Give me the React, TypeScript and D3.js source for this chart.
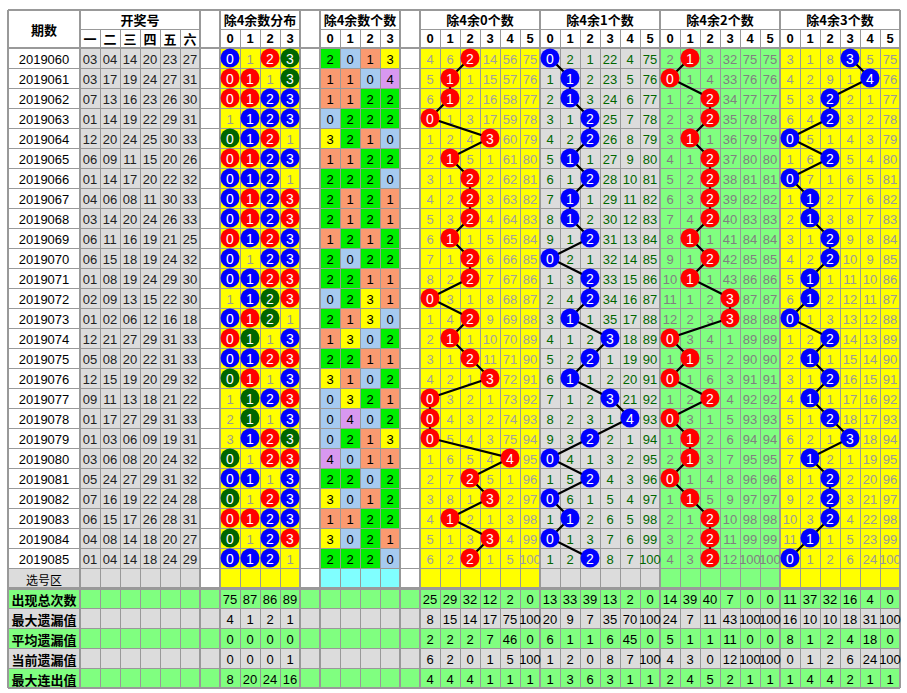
import React from 'react';
import * as d3 from 'd3';

const ISSUES = ['2019060','2019061','2019062','2019063','2019064','2019065','2019066','2019067','2019068','2019069','2019070','2019071','2019072','2019073','2019074','2019075','2019076','2019077','2019078','2019079','2019080','2019081','2019082','2019083','2019084','2019085'];
const DRAWS = [
  [3,4,14,20,23,27],[3,17,19,24,27,31],[7,13,16,23,26,30],[1,14,19,22,29,31],[12,20,24,25,30,33],
  [6,9,11,15,20,26],[1,14,17,20,22,32],[4,6,8,11,30,33],[3,14,20,24,26,33],[6,11,16,19,21,25],
  [6,15,18,19,24,32],[1,8,19,24,29,30],[2,9,13,15,22,30],[1,2,6,12,16,18],[12,21,27,29,31,33],
  [5,8,20,22,31,33],[12,15,19,20,29,32],[9,11,13,18,21,22],[1,17,27,29,31,33],[1,3,6,9,19,31],
  [3,6,8,20,24,32],[5,24,27,29,31,32],[7,16,19,22,24,28],[6,15,17,26,28,31],[4,8,14,18,20,27],
  [1,4,14,18,24,29]
];
// first-row omission values (0 = hit)
const INIT_DIST = [0,1,0,0];
const INIT_R0 = [4,6,0,14,56,75];
const INIT_R1 = [0,2,1,22,4,75];
const INIT_R2 = [2,0,3,32,75,75];
const INIT_R3 = [3,1,8,0,5,75];

const HEAD_NUM = ['一','二','三','四','五','六'];
const STAT_LABELS = ['出现总次数','最大遗漏值','平均遗漏值','当前遗漏值','最大连出值'];
const STAT_DIST = [[75,87,86,89],[4,1,2,1],[0,0,0,0],[0,0,0,1],[8,20,24,16]];
const STAT_R0 = [[25,29,32,12,2,0],[8,15,14,17,75,100],[2,2,2,7,46,0],[6,2,0,1,5,100],[4,4,4,1,1,1]];
const STAT_R1 = [[13,33,39,13,2,0],[20,9,7,35,70,100],[6,1,1,6,45,0],[1,2,0,8,7,100],[1,3,6,3,1,1]];
const STAT_R2 = [[14,39,40,7,0,0],[24,7,11,43,100,100],[5,1,1,11,0,0],[4,3,0,12,100,100],[2,4,5,2,1,1]];
const STAT_R3 = [[11,37,32,16,4,0],[16,10,10,18,31,100],[8,1,2,4,18,0],[0,1,2,6,24,100],[1,4,4,2,1,1]];

const W = 907, H = 693;
const LEFT = 8, TOP = 10, MID = 29;
const col = d3.scaleLinear().domain([0, 1]).range([80, 100]);
const row = d3.scaleLinear().domain([0, 1]).range([48, 68]);
const CW = 20, RH = 20;

const YEL = '#ffff00', GRY = '#dcdcdc', GRN = '#80ff80';
const COUNT_BG: Record<number, string> = { 0: '#a6caf0', 1: '#fa9a70', 2: '#00ee00', 3: '#ffff00', 4: '#d898f0' };
const NUMF = '"Liberation Sans", Arial, sans-serif';
const CJK = '"Noto Sans CJK SC", sans-serif';

const counts = DRAWS.map(d => [0, 1, 2, 3].map(r => d.filter(n => n % 4 === r).length));

function omissions(init: number[], hit: (i: number, c: number) => boolean) {
  const out: number[][] = [];
  counts.forEach((_, i) => {
    out.push(init.map((v, c) => (i === 0 ? v : hit(i, c) ? 0 : out[i - 1][c] + 1)));
  });
  return out;
}
const distOm = omissions(INIT_DIST, (i, c) => counts[i][c] > 0);
const SECTIONS = [
  { title: '除4余0个数', start: 17, init: INIT_R0, bg: YEL, tc: '#a0a0a0', ball: '#ff0000', stats: STAT_R0 },
  { title: '除4余1个数', start: 23, init: INIT_R1, bg: GRY, tc: '#006600', ball: '#0000ff', stats: STAT_R1 },
  { title: '除4余2个数', start: 29, init: INIT_R2, bg: GRN, tc: '#808080', ball: '#ff0000', stats: STAT_R2 },
  { title: '除4余3个数', start: 35, init: INIT_R3, bg: YEL, tc: '#999999', ball: '#0000ff', stats: STAT_R3 },
].map((s, k) => ({ ...s, om: omissions(s.init, (i, c) => counts[i][k] === c) }));

const NROWS = ISSUES.length;

function Ball({ cx, cy, fill, label }: { cx: number; cy: number; fill: string; label: string | number }) {
  return (
    <g>
      <circle cx={cx} cy={cy} r={9.5} fill={fill} />
      <text x={cx} y={cy + 1} textAnchor="middle" dominantBaseline="central" fill="#fff" fontSize={14} fontFamily={NUMF}>{label}</text>
    </g>
  );
}

export default function App() {
  const rects: { x: number; y: number; w: number; h: number; fill: string }[] = [];
  const texts: { x: number; y: number; t: string | number; fill: string; size: number; bold?: boolean; font?: string }[] = [];
  const balls: { cx: number; cy: number; fill: string; label: number }[] = [];
  const cell = (c: number, r: number, fill: string) => rects.push({ x: col(c), y: row(r), w: CW, h: RH, fill });
  const ctext = (c: number, r: number, t: string | number, fill: string, size = 13, bold = false) =>
    texts.push({ x: col(c) + CW / 2, y: row(r) + RH / 2 + 1, t, fill, size, bold });

  // header
  rects.push({ x: LEFT, y: TOP, w: 900 - LEFT, h: 48 - TOP, fill: '#fff' });

  // data rows
  for (let i = 0; i < NROWS; i++) {
    rects.push({ x: LEFT, y: row(i), w: 80 - LEFT, h: RH, fill: '#fff' });
    texts.push({ x: 44, y: row(i) + RH / 2 + 1, t: ISSUES[i], fill: '#000', size: 13 });
    DRAWS[i].forEach((n, c) => { cell(c, i, GRY); ctext(c, i, String(n).padStart(2, '0'), '#222'); });
    [6, 11, 16].forEach(c => cell(c, i, '#fff'));
    for (let r = 0; r < 4; r++) {
      cell(7 + r, i, YEL);
      const k = counts[i][r];
      if (k > 0) balls.push({ cx: col(7 + r) + CW / 2, cy: row(i) + RH / 2, fill: k === 1 ? '#ff0000' : k === 2 ? '#0000ff' : '#006600', label: r });
      else ctext(7 + r, i, distOm[i][r], '#999');
      cell(12 + r, i, COUNT_BG[k]);
      ctext(12 + r, i, k, '#000');
    }
    SECTIONS.forEach((s, k) => {
      for (let c = 0; c < 6; c++) {
        cell(s.start + c, i, s.bg);
        if (counts[i][k] !== c) ctext(s.start + c, i, s.om[i][c], s.tc);
      }
    });
  }
  // 选号区
  const SR = NROWS;
  rects.push({ x: LEFT, y: row(SR), w: 80 - LEFT, h: RH, fill: GRY });
  texts.push({ x: 44, y: row(SR) + RH / 2 + 1, t: '选号区', fill: '#000', size: 12, font: CJK });
  for (let c = 0; c < 6; c++) cell(c, SR, GRY);
  [6, 11, 16].forEach(c => cell(c, SR, '#fff'));
  for (let r = 0; r < 4; r++) { cell(7 + r, SR, YEL); cell(12 + r, SR, '#80ffff'); }
  SECTIONS.forEach(s => { for (let c = 0; c < 6; c++) cell(s.start + c, SR, s.bg); });

  // stats rows
  STAT_LABELS.forEach((lab, j) => {
    const r = SR + 1 + j;
    const bg = j % 2 === 0 ? GRN : GRY;
    rects.push({ x: LEFT, y: row(r), w: 900 - LEFT, h: RH, fill: bg });
    texts.push({ x: 44, y: row(r) + RH / 2 + 1, t: lab, fill: '#000', size: 13, bold: true, font: CJK });
    STAT_DIST[j].forEach((v, c) => ctext(7 + c, r, v, '#000'));
    SECTIONS.forEach(s => s.stats[j].forEach((v, c) => ctext(s.start + c, r, v, '#000')));
  });

  // section balls & lines
  const line = d3.line<[number, number]>();
  const paths: string[] = [];
  SECTIONS.forEach((s, k) => {
    const pts: [number, number][] = counts.map((cn, i) => [col(s.start + cn[k]) + CW / 2, row(i) + RH / 2]);
    paths.push(line(pts) || '');
    pts.forEach((p, i) => balls.push({ cx: p[0], cy: p[1], fill: s.ball, label: counts[i][k] }));
  });

  // grid lines
  const gl: { x1: number; y1: number; x2: number; y2: number; w: number }[] = [];
  const BOTTOM = row(SR + 6);
  for (let r = 0; r <= SR + 6; r++) {
    const y = row(r);
    const w = r === 0 ? 2 : r === SR + 1 ? 3 : 1;
    gl.push({ x1: LEFT, y1: y, x2: 900, y2: y, w: r === SR + 6 ? 2 : w });
  }
  gl.push({ x1: LEFT, y1: TOP, x2: 900, y2: TOP, w: 2 });
  [[0, 6], [7, 11], [12, 16], [17, 41]].forEach(([a, b]) => gl.push({ x1: col(a), y1: MID, x2: col(b), y2: MID, w: 1 }));
  const thick = new Set([0, 6, 7, 11, 12, 16, 17, 23, 29, 35, 41]);
  for (let c = 0; c <= 41; c++) {
    if (thick.has(c)) gl.push({ x1: col(c), y1: TOP, x2: col(c), y2: BOTTOM, w: 2 });
    else gl.push({ x1: col(c), y1: MID, x2: col(c), y2: BOTTOM, w: 1 });
  }
  gl.push({ x1: LEFT, y1: TOP, x2: LEFT, y2: BOTTOM, w: 2 });

  const headers: { x: number; y: number; t: string }[] = [
    { x: 44, y: 29, t: '期数' },
    { x: (col(0) + col(6)) / 2, y: 19.5, t: '开奖号' },
    { x: (col(7) + col(11)) / 2, y: 19.5, t: '除4余数分布' },
    { x: (col(12) + col(16)) / 2, y: 19.5, t: '除4余数个数' },
    ...SECTIONS.map(s => ({ x: (col(s.start) + col(s.start + 6)) / 2, y: 19.5, t: s.title })),
  ];
  const sub: { c: number; t: string }[] = [
    ...HEAD_NUM.map((t, c) => ({ c, t })),
    ...[0, 1, 2, 3].map(r => ({ c: 7 + r, t: String(r) })),
    ...[0, 1, 2, 3].map(r => ({ c: 12 + r, t: String(r) })),
    ...SECTIONS.flatMap(s => [0, 1, 2, 3, 4, 5].map(c => ({ c: s.start + c, t: String(c) }))),
  ];

  return (
    <svg width={W} height={H} style={{ position: 'absolute', left: 0, top: 0, display: 'block', background: '#fff' }}>
      {rects.map((r, i) => <rect key={i} x={r.x} y={r.y} width={r.w} height={r.h} fill={r.fill} />)}
      <g>
        {gl.map((l, i) => {
          const off = l.w % 2 === 1 ? 0.5 : 0;
          const horiz = l.y1 === l.y2;
          return <line key={i} x1={horiz ? l.x1 : l.x1 + off} x2={horiz ? l.x2 : l.x2 + off} y1={horiz ? l.y1 + off : l.y1} y2={horiz ? l.y2 + off : l.y2} stroke="#999" strokeWidth={l.w} />;
        })}
      </g>
      {texts.map((t, i) => (
        <text key={i} x={t.x} y={t.y} textAnchor="middle" dominantBaseline="central" fill={t.fill} fontSize={t.size}
          fontWeight={t.bold ? 'bold' : 'normal'} fontFamily={t.font || NUMF}>{t.t}</text>
      ))}
      {headers.map((h, i) => (
        <text key={i} x={h.x} y={h.y} textAnchor="middle" dominantBaseline="central" fontSize={13} fontWeight="bold" fontFamily={CJK} fill="#000">{h.t}</text>
      ))}
      {sub.map((s, i) => (
        <text key={i} x={col(s.c) + CW / 2} y={38.5} textAnchor="middle" dominantBaseline="central" fontSize={13} fontWeight="bold" fontFamily={i < 6 ? CJK : NUMF} fill="#000">{s.t}</text>
      ))}
      {paths.map((p, i) => <path key={i} d={p} fill="none" stroke="#000" strokeWidth={2.2} />)}
      {balls.map((b, i) => <Ball key={i} {...b} />)}
    </svg>
  );
}
